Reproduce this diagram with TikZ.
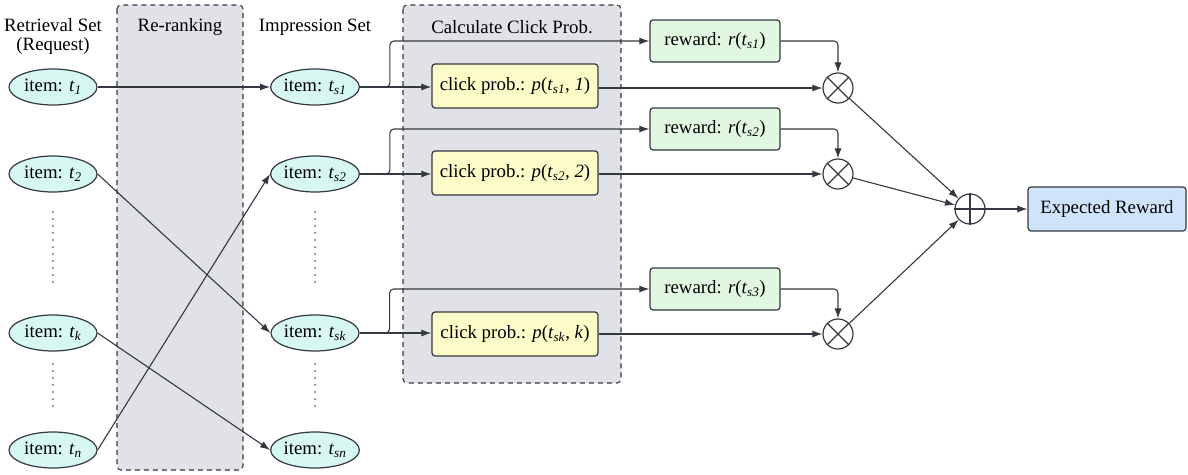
\documentclass[tikz,border=0pt]{standalone}
\usepackage{fontspec}
\setmainfont{Liberation Serif}
\usetikzlibrary{arrows.meta,shapes.geometric}
\definecolor{edgegray}{RGB}{52,57,65}
\definecolor{panelgray}{RGB}{224,226,231}
\definecolor{itemcyan}{RGB}{214,247,242}
\definecolor{probyellow}{RGB}{253,251,200}
\definecolor{rewardgreen}{RGB}{225,247,224}
\definecolor{resultblue}{RGB}{207,227,251}
\newcommand{\tv}[1]{\textit{t}\textsubscript{\textit{#1}}}

\begin{document}
\begin{tikzpicture}[x=1pt,y=-1pt,font=\fontsize{18.8}{19}\selectfont,
	line width=1.1pt,draw=edgegray,
	panel/.style={draw=edgegray,fill=panelgray,dash pattern=on 5pt off 4pt,rounded corners=4pt},
	item/.style={ellipse,draw=edgegray,fill=itemcyan,line width=1.2pt,minimum width=88pt,minimum height=36pt,inner sep=0pt},
	probbox/.style={draw=edgegray,fill=probyellow,rounded corners=3pt,line width=1.2pt,minimum width=166pt,minimum height=44pt},
	rewardbox/.style={draw=edgegray,fill=rewardgreen,rounded corners=3pt,line width=1.2pt,minimum width=130pt,minimum height=42pt},
	opnode/.style={circle,draw=edgegray,line width=1.2pt,minimum size=30pt,inner sep=0pt},
	conn/.style={draw=edgegray,-{Latex[length=10pt,width=7pt]}}]
		\useasboundingbox (0,0) rectangle (1188,474);
		\draw[panel] (117,5) rectangle (243,470);
		\draw[panel] (403,5) rectangle (621,383);
		\node (hret) [align=center] at (53,36) {Retrieval Set\\(Request)};
		\node (hrr) at (180,27) {Re-ranking};
		\node (himp) at (315,27) {Impression Set};
		\node (hcalc) at (512,27) {Calculate Click Prob.};
		\node[item] (t1) at (53,87) {item: \tv{1}};
		\node[item] (t2) at (53,174) {item: \tv{2}};
		\node[item] (tk) at (53,333) {item: \tv{k}};
		\node[item] (tn) at (53,450) {item: \tv{n}};
		\node[item] (ts1) at (315,87) {item: \tv{s1}};
		\node[item] (ts2) at (315,174) {item: \tv{s2}};
		\node[item] (tsk) at (315,333) {item: \tv{sk}};
		\node[item] (tsn) at (315,450) {item: \tv{sn}};
		\foreach \x in {53,315}{
			\foreach \y in {212,219,...,283} \fill[edgegray] (\x,\y) circle (0.9pt);
			\foreach \y in {364,371,...,406} \fill[edgegray] (\x,\y) circle (0.9pt);
		}
		\node[probbox] (p1) at (515,86) {click prob.: \textit{p}(\tv{s1}, \textit{1})};
		\node[probbox] (p2) at (515,173) {click prob.: \textit{p}(\tv{s2}, \textit{2})};
		\node[probbox] (pk) at (515,334) {click prob.: \textit{p}(\tv{sk}, \textit{k})};
		\node[rewardbox] (r1) at (715,41) {reward: \textit{r}(\tv{s1})};
		\node[rewardbox] (r2) at (715,129) {reward: \textit{r}(\tv{s2})};
		\node[rewardbox] (r3) at (715,289) {reward: \textit{r}(\tv{s3})};
		\node[opnode] (m1) at (838,88) {};
		\node[opnode] (m2) at (838,174) {};
		\node[opnode] (m3) at (838,334) {};
		\foreach \m in {m1,m2,m3}{
			\draw[line width=1.2pt] (\m.north west) -- (\m.south east);
			\draw[line width=1.2pt] (\m.north east) -- (\m.south west);
		}
		\node[opnode] (sum) at (970,209) {};
		\draw[line width=1.2pt] (sum.north) -- (sum.south);
		\draw[line width=1.2pt] (sum.west) -- (sum.east);
		\node (er) [draw=edgegray,fill=resultblue,rounded corners=3pt,line width=1.2pt,minimum width=158pt,minimum height=44pt] at (1107,209) {Expected Reward};
		\draw[conn] (t1) -- (ts1);
		\draw[conn] (t2.east) -- (tsk.west);
		\draw[conn] (tk.east) -- (tsn.west);
		\draw[conn] (tn.east) -- (ts2.west);
		\foreach \s/\p/\r in {ts1/p1/r1,ts2/p2/r2,tsk/pk/r3}{
			\draw[conn] (\s.east) -- (\p.west |- \s.east);
			\draw[conn,rounded corners=4pt] (\s.east) -- ++(30,0) |- (\r.west);
		}
		\foreach \p/\r/\m in {p1/r1/m1,p2/r2/m2,pk/r3/m3}{
			\draw[conn] (\p.east |- \m.west) -- (\m.west);
			\draw[conn,rounded corners=4pt] (\r.east) -| (\m.north);
			\draw[conn] (\m) -- (sum);
		}
		\draw[conn] (sum) -- (er);
	\end{tikzpicture}
\end{document}
